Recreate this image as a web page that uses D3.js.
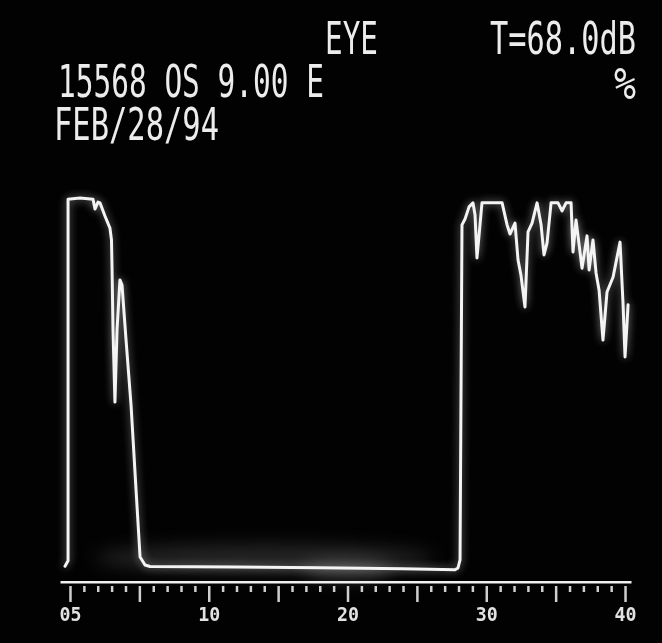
<!DOCTYPE html>
<html>
<head>
<meta charset="utf-8">
<script src="https://cdn.jsdelivr.net/npm/d3@7"></script>
<style>
  html, body { margin: 0; padding: 0; background: #000; }
  svg { display: block; }
</style>
</head>
<body>
<svg id="scan" width="662" height="643"></svg>
<script>
// A-scan echo trace: depth along the beam (mm) and echo height (% of full scale)
const depth = [
  -0.36, -0.14, -0.14, 0.72, 1.66, 1.80, 2.02, 2.16, 2.52, 2.88, 2.99, 3.03, 3.10, 3.24,
  3.39, 3.60, 3.75, 4.04, 4.40, 4.76, 5.05, 5.41, 5.77, 12.0, 18.0, 24.0, 27.75,
  27.96, 28.11, 28.25, 28.47, 28.76, 29.04, 29.19, 29.33, 29.48, 29.69, 30.41, 31.14,
  31.50, 31.71, 32.07, 32.29, 32.50, 32.79, 33.01, 33.30, 33.66, 33.95, 34.16, 34.38,
  34.67, 35.17, 35.46, 35.75, 36.11, 36.25, 36.47, 36.90, 37.26, 37.41, 37.69, 37.91,
  38.13, 38.41, 38.70, 39.14, 39.64, 39.86, 40.00, 40.22
];
const echo = [
  0.5, 2.0, 100.5, 100.8, 100.5, 97.8, 99.7, 99.5, 95.9, 92.6, 89.4, 81.7, 64.9, 45.2,
  64.9, 78.5, 77.1, 62.1, 44.4, 21.3, 3.0, 0.8, 0.4, 0.3, 0.1, -0.2, -0.5,
  0.0, 2.2, 93.5, 95.1, 98.4, 99.5, 96.2, 84.5, 90.7, 99.5, 99.5, 99.5,
  93.5, 91.0, 94.0, 83.9, 79.8, 71.1, 91.6, 94.0, 99.5, 93.5, 85.3, 88.6,
  99.5, 99.5, 97.3, 99.5, 99.5, 86.1, 94.8, 81.7, 90.5, 81.2, 89.4, 80.4,
  75.7, 62.1, 75.2, 79.3, 88.8, 71.7, 57.5, 71.7
];

// Depth scale ticks: one per mm, longer every 5 mm, labelled every 10 mm
const tickValues = d3.range(0, 41, 1);
const labelledTicks = [0, 10, 20, 30, 40];
const tickLabels = ["05", "10", "20", "30", "40"];

// Readouts shown on the screen
const headerTop = ["EYE", "T=68.0dB"];
const patientLine = "15568 OS 9.00 E";
const dateLine = "FEB/28/94";
const gateMark = "%";

const svg = d3.select("#scan");
const defs = svg.append("defs");

// phosphor glow for the trace
const glow = defs.append("filter").attr("id", "glow")
  .attr("x", "-30%").attr("y", "-30%").attr("width", "160%").attr("height", "160%");
glow.append("feGaussianBlur").attr("in", "SourceGraphic").attr("stdDeviation", 4).attr("result", "wide");
glow.append("feComponentTransfer").attr("in", "wide").attr("result", "wideDim")
  .append("feFuncA").attr("type", "linear").attr("slope", 0.55);
glow.append("feGaussianBlur").attr("in", "SourceGraphic").attr("stdDeviation", 0.7).attr("result", "core");
const gm = glow.append("feMerge");
gm.append("feMergeNode").attr("in", "wideDim");
gm.append("feMergeNode").attr("in", "core");

// slight softness of the screen lettering
const softText = defs.append("filter").attr("id", "softText")
  .attr("filterUnits", "userSpaceOnUse")
  .attr("x", 0).attr("y", 0).attr("width", 662).attr("height", 643);
softText.append("feGaussianBlur").attr("in", "SourceGraphic").attr("stdDeviation", 0.6);

const haze = defs.append("filter").attr("id", "haze")
  .attr("x", "-50%").attr("y", "-200%").attr("width", "200%").attr("height", "500%");
haze.append("feGaussianBlur").attr("stdDeviation", 9);

// screen face
svg.append("rect").attr("x", 0).attr("y", 0).attr("width", 662).attr("height", 643).attr("fill", "#020202");

const x = d3.scaleLinear().domain([-0.72, 40.43]).range([60, 631]);
const y = d3.scaleLinear().domain([0, 100]).range([568, 201]);

// faint fog above the echo-free stretch of baseline
svg.append("ellipse").attr("cx", x(14)).attr("cy", 558).attr("rx", 170).attr("ry", 13)
  .attr("fill", "#6a6a6a").attr("opacity", 0.35).attr("filter", "url(#haze)");
svg.append("ellipse").attr("cx", x(20)).attr("cy", 570).attr("rx", 45).attr("ry", 9)
  .attr("fill", "#9a9a9a").attr("opacity", 0.35).attr("filter", "url(#haze)");

// text readouts: tall, narrow CRT lettering squeezed horizontally to its width
const txt = svg.append("g").attr("fill", "#ececec").attr("filter", "url(#softText)")
  .style("font-family", "'DejaVu Sans Mono', monospace");
function readout(str, x0, base, width, size) {
  const t = txt.append("text").attr("x", 0).attr("y", 0)
    .attr("font-size", size)
    .text(str);
  const natural = t.node().getComputedTextLength();
  t.attr("transform", `translate(${x0},${base}) scale(${width / natural},1)`);
}
readout(headerTop[0], 325, 54, 53, 44);
readout(headerTop[1], 490, 54, 146, 44);
readout(patientLine, 58, 97, 266, 44);
readout(dateLine, 54, 140, 165, 44);
readout(gateMark, 614, 99, 22, 44);

// depth axis
const axis = d3.axisBottom(x)
  .tickValues(tickValues)
  .tickSizeOuter(0)
  .tickFormat(d => {
    const i = labelledTicks.indexOf(d);
    return i >= 0 ? tickLabels[i] : "";
  });
const gAxis = svg.append("g").attr("transform", "translate(0,581)").call(axis);
gAxis.select(".domain").attr("stroke", "#f0f0f0").attr("stroke-width", 4);
gAxis.selectAll(".tick line")
  .attr("stroke", "#cfcfcf").attr("stroke-width", 2.5)
  .attr("y1", 5)
  .attr("y2", d => (d % 5 === 0 ? 21 : 11));
gAxis.selectAll(".tick text")
  .attr("fill", "#e2e2e2")
  .attr("y", 40).attr("dy", null)
  .style("font-family", "'DejaVu Sans Mono', monospace")
  .style("font-size", "20px")
  .style("font-weight", "bold")
  .attr("textLength", d => (labelledTicks.includes(d) ? 22 : null))
  .attr("lengthAdjust", "spacingAndGlyphs");
gAxis.attr("filter", "url(#softText)");

// echo trace
const pts = depth.map((d, i) => [d, echo[i]]);
const line = d3.line().x(d => x(d[0])).y(d => y(d[1]));
svg.append("path")
  .datum(pts)
  .attr("d", line)
  .attr("fill", "none")
  .attr("stroke", "#f4f4f4")
  .attr("stroke-width", 3)
  .attr("stroke-linejoin", "round")
  .attr("stroke-linecap", "round")
  .attr("filter", "url(#glow)");
</script>
</body>
</html>
